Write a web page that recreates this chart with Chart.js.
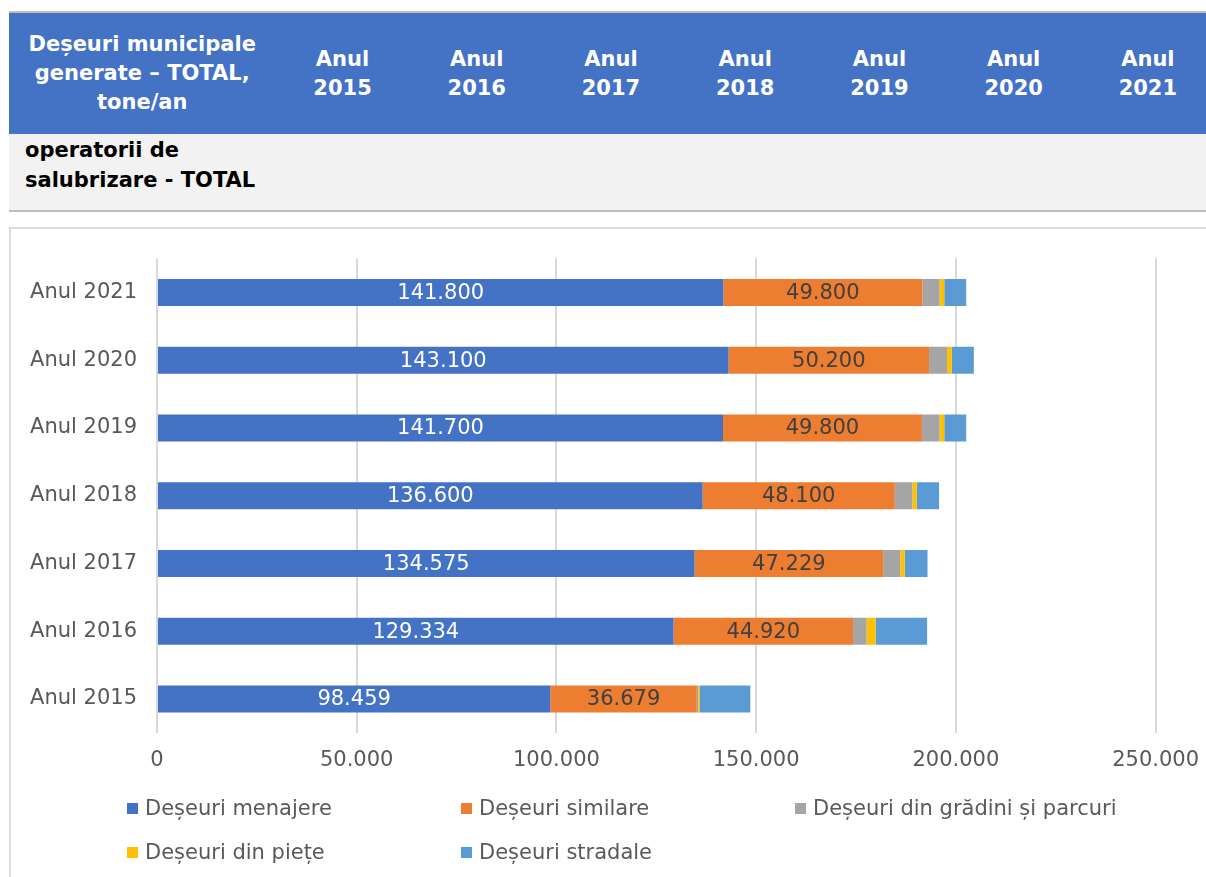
<!DOCTYPE html>
<html lang="ro">
<head>
<meta charset="utf-8">
<script src="https://cdn.jsdelivr.net/npm/chart.js@4"></script>
<style>
  html, body { margin: 0; padding: 0; background: #fff; }
  body { width: 1206px; height: 877px; overflow: hidden; position: relative; font-family: 'DejaVu Sans', Verdana, sans-serif; }
  .tabel { position: absolute; left: 9px; top: 11px; width: 1206px; border-collapse: collapse; table-layout: fixed; }
  .tabel th { background: #4472c4; color: #fff; font-size: 21px; font-weight: bold; line-height: 29px; height: 121px; padding: 0; text-align: center; vertical-align: middle; border-top: 2px solid #bfbfbf; }
  .tabel td { background: #f2f2f2; color: #000; font-size: 21px; font-weight: bold; line-height: 30px; height: 75px; padding: 1px 0 0 16px; vertical-align: top; border-bottom: 2px solid #bfbfbf; }
  .cutie { position: absolute; left: 9px; top: 227px; width: 1200px; height: 660px; border-top: 2px solid #dcdcdc; border-left: 2px solid #dcdcdc; }
  #grafic-wrap { position: absolute; left: 0; top: 226px; width: 1214px; height: 580px; }
  #legenda { position: absolute; left: 127px; top: 786px; width: 1002px; display: flex; flex-wrap: wrap; }
  #legenda .item { width: 334px; height: 44px; line-height: 44px; font-size: 21px; color: #595959; white-space: nowrap; }
  #legenda .box { display: inline-block; width: 11px; height: 11px; margin-right: 7px; vertical-align: middle; position: relative; top: -1px; }
</style>
</head>
<body>
<table class="tabel">
  <colgroup><col style="width:266px"><col span="7" style="width:134px"></colgroup>
  <tr>
    <th>Deșeuri municipale<br>generate – TOTAL,<br>tone/an</th>
    <th>Anul<br>2015</th><th>Anul<br>2016</th><th>Anul<br>2017</th><th>Anul<br>2018</th>
    <th>Anul<br>2019</th><th>Anul<br>2020</th><th>Anul<br>2021</th>
  </tr>
  <tr><td colspan="8">operatorii de<br>salubrizare - TOTAL</td></tr>
</table>
<div class="cutie"></div>
<div id="grafic-wrap"><canvas id="grafic"></canvas></div>
<div id="legenda"></div>
<script>
const ani = ['Anul 2015', 'Anul 2016', 'Anul 2017', 'Anul 2018', 'Anul 2019', 'Anul 2020', 'Anul 2021'];
const menajere = [98459, 129334, 134575, 136600, 141700, 143100, 141800];
const similare = [36679, 44920, 47229, 48100, 49800, 50200, 49800];
const gradini = [400, 3400, 4300, 4400, 4400, 4500, 4300];
const piete = [400, 2250, 1100, 1100, 1200, 1200, 1200];
const stradale = [12600, 12900, 5700, 5600, 5500, 5500, 5500];
const ticksX = [0, 50000, 100000, 150000, 200000, 250000];

const font = "'DejaVu Sans', Verdana, sans-serif";

function formatRo(v) {
  return String(Math.round(v)).replace(/\B(?=(\d{3})+(?!\d))/g, '.');
}

// etichete in interiorul barelor (doar primele doua serii)
const eticheteBare = {
  id: 'eticheteBare',
  afterDatasetsDraw(chart) {
    const ctx = chart.ctx;
    const culori = ['#ffffff', '#404040'];
    ctx.save();
    ctx.font = '21px ' + font;
    ctx.textAlign = 'center';
    ctx.textBaseline = 'middle';
    [0, 1].forEach((di) => {
      const meta = chart.getDatasetMeta(di);
      ctx.fillStyle = culori[di];
      meta.data.forEach((bar, i) => {
        const p = bar.getCenterPoint();
        ctx.fillText(formatRo(chart.data.datasets[di].data[i]), p.x, p.y + 1);
      });
    });
    ctx.restore();
  },
};

const ctx = document.getElementById('grafic').getContext('2d');
const chart = new Chart(ctx, {
  type: 'bar',
  data: {
    labels: ani,
    datasets: [
      { label: 'Deșeuri menajere', data: menajere, backgroundColor: '#4472c4' },
      { label: 'Deșeuri similare', data: similare, backgroundColor: '#ed7d31' },
      { label: 'Deșeuri din grădini și parcuri', data: gradini, backgroundColor: '#a5a5a5' },
      { label: 'Deșeuri din piețe', data: piete, backgroundColor: '#ffc000' },
      { label: 'Deșeuri stradale', data: stradale, backgroundColor: '#5b9bd5' },
    ],
  },
  options: {
    indexAxis: 'y',
    responsive: true,
    maintainAspectRatio: false,
    animation: false,
    datasets: { bar: { barPercentage: 0.4, categoryPercentage: 1, borderWidth: 0 } },
    layout: { padding: { left: 0, right: 0, top: 0, bottom: 18 } },
    plugins: { legend: { display: false }, tooltip: { enabled: false } },
    scales: {
      x: {
        stacked: true,
        min: 0,
        max: 250000,
        afterBuildTicks: (s) => { s.ticks = ticksX.map((v) => ({ value: v })); },
        grid: { color: '#d9d9d9', lineWidth: 2, drawTicks: false },
        border: { display: false },
        ticks: { padding: 15, color: '#595959', font: { family: font, size: 21 }, callback: (v) => formatRo(v) },
      },
      y: {
        stacked: true,
        reverse: true,
        grid: { display: false, drawTicks: false },
        border: { display: false },
        afterFit: (s) => { s.width = 157; },
        ticks: { padding: 20, color: '#595959', font: { family: font, size: 21 } },
      },
    },
  },
  plugins: [eticheteBare],
});

// legenda HTML construita din seriile graficului
const leg = document.getElementById('legenda');
chart.data.datasets.forEach((ds) => {
  const it = document.createElement('div');
  it.className = 'item';
  it.innerHTML = '<span class="box" style="background:' + ds.backgroundColor + '"></span>' + ds.label;
  leg.appendChild(it);
});
</script>
</body>
</html>
